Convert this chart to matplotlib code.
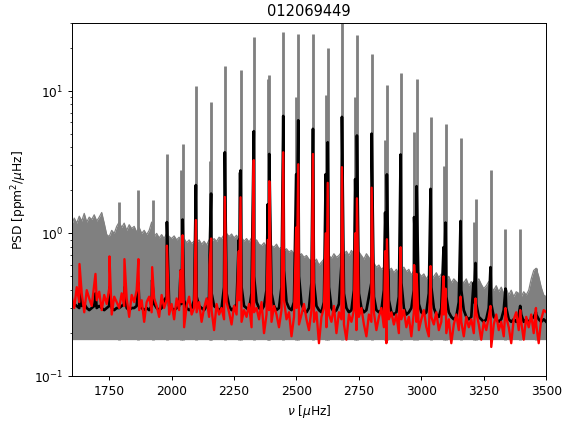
import numpy as np
import matplotlib
matplotlib.use("Agg")
import matplotlib.pyplot as plt

# ---------------- data ----------------
title = "012069449"
grid_start, grid_step = 1600, 10   # frequency grid of the background arrays (muHz)

# gray (raw PSD): lower floor and upper envelope of the dense band
gray_floor = 0.18
gray_top = [
    1.15, 1.28, 1.18, 1.32, 1.22, 1.38, 1.20, 1.30, 1.25, 1.35,
    1.22, 1.30, 1.40, 1.18, 0.98, 0.95, 1.05, 1.00, 1.12, 1.20,
    1.10, 1.18, 1.05, 1.15, 1.08, 1.12, 1.02, 1.10, 1.00, 1.05,
    0.98, 1.05, 1.20, 0.95, 1.00, 0.93, 0.98, 0.92, 1.00, 0.95,
    0.92, 0.96, 0.90, 0.94, 0.88, 0.92, 0.86, 0.90, 0.85, 0.88,
    0.86, 0.90, 0.84, 0.88, 0.83, 0.90, 0.87, 0.92, 0.88, 0.94,
    0.92, 0.98, 1.00, 0.95, 0.99, 0.93, 0.97, 0.90, 0.94, 0.88,
    0.92, 0.87, 0.93, 0.86, 0.90, 0.84, 0.82, 0.86, 0.80, 0.84,
    0.82, 0.80, 0.84, 0.78, 0.80, 0.76, 0.78, 0.74, 0.76, 0.72,
    0.74, 0.70, 0.72, 0.68, 0.70, 0.66, 0.64, 0.62, 0.66, 0.60,
    0.63, 0.66, 0.62, 0.70, 0.67, 0.72, 0.68, 0.70, 0.74, 0.72,
    0.75, 0.70, 0.76, 0.72, 0.68, 0.74, 0.70, 0.66, 0.72, 0.68,
    0.64, 0.62, 0.58, 0.60, 0.56, 0.58, 0.60, 0.55, 0.57, 0.53,
    0.56, 0.52, 0.55, 0.58, 0.54, 0.56, 0.51, 0.55, 0.50, 0.53,
    0.50, 0.52, 0.48, 0.51, 0.47, 0.50, 0.53, 0.49, 0.52, 0.48,
    0.47, 0.50, 0.45, 0.48, 0.46, 0.44, 0.47, 0.45, 0.48, 0.43,
    0.46, 0.42, 0.45, 0.48, 0.44, 0.41, 0.43, 0.46, 0.42, 0.40,
    0.43, 0.39, 0.42, 0.38, 0.41, 0.37, 0.40, 0.36, 0.39, 0.38,
    0.36, 0.39, 0.37, 0.40, 0.48, 0.55, 0.57, 0.50, 0.42, 0.37,
    0.36,
]
gray_peak_freq = [1790, 1865, 1927, 1981, 2036, 2044, 2097, 2152, 2158, 2213,
                  2269, 2276, 2329, 2385, 2391, 2447, 2499, 2507, 2566, 2617,
                  2625, 2682, 2735, 2742, 2801, 2854, 2862, 2917, 2971, 2981,
                  3037, 3089, 3097, 3157, 3209, 3217, 3277, 3337, 3396, 3459]
gray_peak_height = [1.65, 2.0, 1.71, 3.6, 2.8, 4.2, 10.7, 3.2, 8.3, 15.0,
                    2.7, 13.9, 23.6, 12.0, 12.9, 25.6, 9.1, 24.8, 24.9, 9.4,
                    19.9, 40.0, 9.1, 24.4, 18.1, 4.5, 10.9, 13.4, 5.1, 12.1,
                    6.5, 2.95, 5.8, 4.67, 1.2, 1.73, 2.8, 1.08, 1.08, 0.57]

# black (smoothed PSD): background on the grid plus peak maxima
black_bg = [
    0.31, 0.32, 0.31, 0.30, 0.31, 0.32, 0.30, 0.29, 0.30, 0.31,
    0.30, 0.31, 0.30, 0.29, 0.30, 0.31, 0.30, 0.29, 0.30, 0.30,
    0.31, 0.32, 0.30, 0.29, 0.30, 0.30, 0.31, 0.32, 0.30, 0.29,
    0.30, 0.29, 0.31, 0.32, 0.30, 0.29, 0.30, 0.34, 0.36, 0.31,
    0.30, 0.29, 0.30, 0.31, 0.32, 0.34, 0.30, 0.29, 0.30, 0.34,
    0.36, 0.31, 0.30, 0.29, 0.31, 0.36, 0.38, 0.31, 0.30, 0.29,
    0.30, 0.42, 0.38, 0.31, 0.29, 0.30, 0.32, 0.40, 0.42, 0.31,
    0.30, 0.29, 0.38, 0.50, 0.33, 0.30, 0.29, 0.31, 0.40, 0.60,
    0.38, 0.31, 0.29, 0.30, 0.42, 0.55, 0.33, 0.30, 0.29, 0.33,
    0.60, 0.50, 0.32, 0.29, 0.28, 0.30, 0.45, 0.45, 0.31, 0.29,
    0.28, 0.33, 0.70, 0.42, 0.30, 0.28, 0.29, 0.32, 0.60, 0.38,
    0.30, 0.28, 0.29, 0.40, 0.70, 0.38, 0.30, 0.28, 0.29, 0.36,
    0.45, 0.36, 0.29, 0.28, 0.29, 0.40, 0.55, 0.34, 0.28, 0.27,
    0.28, 0.36, 0.45, 0.30, 0.27, 0.28, 0.30, 0.40, 0.50, 0.32,
    0.28, 0.27, 0.28, 0.38, 0.42, 0.30, 0.27, 0.26, 0.30, 0.38,
    0.36, 0.28, 0.26, 0.25, 0.26, 0.33, 0.40, 0.29, 0.26, 0.25,
    0.26, 0.33, 0.32, 0.26, 0.25, 0.24, 0.25, 0.30, 0.32, 0.26,
    0.25, 0.24, 0.25, 0.29, 0.30, 0.25, 0.24, 0.25, 0.24, 0.27,
    0.27, 0.24, 0.25, 0.24, 0.25, 0.26, 0.27, 0.25, 0.24, 0.25,
    0.24,
]
black_peak_freq = [1631, 1695, 1751, 1811, 1867, 1922, 1981, 2036, 2044, 2097,
                   2152, 2158, 2213, 2269, 2276, 2329, 2385, 2391, 2447, 2499,
                   2507, 2566, 2617, 2625, 2682, 2735, 2742, 2801, 2855, 2862,
                   2917, 2971, 2981, 3037, 3089, 3097, 3157, 3209, 3217, 3277,
                   3337, 3396, 3459]
black_peak_height = [0.40, 0.38, 0.42, 0.42, 0.45, 0.47, 1.2, 0.55, 1.25, 2.18,
                     0.7, 1.9, 3.7, 0.9, 2.76, 5.2, 1.6, 3.6, 6.65, 2.6,
                     6.2, 5.4, 2.6, 4.35, 6.55, 2.4, 4.85, 5.0, 1.4, 2.59,
                     3.57, 1.3, 2.14, 2.05, 0.8, 1.19, 1.22, 0.45, 0.62, 0.58,
                     0.41, 0.31, 0.28]

# red (second smoothed PSD): background on the grid plus peak maxima
red_bg = [
    0.36, 0.30, 0.42, 0.33, 0.38, 0.28, 0.40, 0.35, 0.31, 0.44,
    0.34, 0.39, 0.29, 0.37, 0.32, 0.41, 0.27, 0.36, 0.33, 0.30,
    0.38, 0.31, 0.35, 0.26, 0.37, 0.33, 0.40, 0.29, 0.34, 0.24,
    0.33, 0.36, 0.28, 0.35, 0.31, 0.26, 0.37, 0.30, 0.34, 0.27,
    0.32, 0.25, 0.35, 0.29, 0.33, 0.22, 0.31, 0.36, 0.27, 0.30,
    0.28, 0.33, 0.24, 0.30, 0.35, 0.26, 0.29, 0.21, 0.32, 0.27,
    0.30, 0.25, 0.33, 0.28, 0.23, 0.31, 0.27, 0.34, 0.24, 0.29,
    0.26, 0.32, 0.22, 0.28, 0.30, 0.25, 0.33, 0.20, 0.27, 0.29,
    0.24, 0.31, 0.27, 0.22, 0.29, 0.34, 0.25, 0.28, 0.19, 0.26,
    0.30, 0.23, 0.27, 0.32, 0.25, 0.21, 0.29, 0.24, 0.28, 0.17,
    0.26, 0.30, 0.22, 0.27, 0.24, 0.31, 0.20, 0.28, 0.25, 0.23,
    0.18, 0.27, 0.24, 0.29, 0.21, 0.26, 0.30, 0.23, 0.19, 0.27,
    0.24, 0.28, 0.21, 0.26, 0.30, 0.22, 0.17, 0.25, 0.28, 0.23,
    0.27, 0.20, 0.25, 0.29, 0.22, 0.26, 0.19, 0.28, 0.24, 0.21,
    0.25, 0.29, 0.22, 0.19, 0.26, 0.23, 0.28, 0.21, 0.24, 0.27,
    0.20, 0.25, 0.17, 0.23, 0.27, 0.21, 0.24, 0.19, 0.26, 0.22,
    0.25, 0.20, 0.28, 0.23, 0.18, 0.24, 0.21, 0.26, 0.16, 0.23,
    0.27, 0.21, 0.24, 0.19, 0.26, 0.22, 0.17, 0.25, 0.28, 0.21,
    0.24, 0.18, 0.26, 0.22, 0.27, 0.20, 0.23, 0.17, 0.25, 0.29,
    0.28,
]
red_peak_freq = [1631, 1695, 1751, 1811, 1867, 1922, 1981, 2036, 2044, 2097,
                 2152, 2158, 2213, 2269, 2276, 2329, 2385, 2391, 2447, 2499,
                 2507, 2566, 2617, 2625, 2682, 2735, 2742, 2801, 2855, 2862,
                 2917, 2971, 2981, 3037, 3089, 3097, 3157, 3217, 3277, 3337,
                 3396, 3459]
red_peak_height = [0.61, 0.52, 0.69, 0.66, 0.66, 0.58, 0.82, 0.55, 0.97, 1.24,
                   0.6, 0.92, 1.8, 0.75, 1.79, 3.26, 0.9, 2.32, 3.7, 1.1,
                   3.05, 3.6, 1.0, 2.26, 2.91, 1.0, 1.76, 2.09, 0.75, 0.91,
                   0.80, 0.6, 0.52, 0.59, 0.5, 0.41, 0.36, 0.35, 0.31, 0.30,
                   0.29, 0.30]

xticks = [1750, 2000, 2250, 2500, 2750, 3000, 3250, 3500]
xlim = (1600, 3500)
ylim = (0.1, 30)


def merged(bg, pk_f, pk_h):
    f_bg = grid_start + grid_step * np.arange(len(bg))
    f = np.concatenate([f_bg, np.asarray(pk_f, float)])
    v = np.concatenate([np.asarray(bg, float), np.asarray(pk_h, float)])
    order = np.argsort(f, kind="stable")
    return f[order], v[order]


fig = plt.figure(figsize=(6.4, 4.8), dpi=88)
ax = fig.add_axes([0.1274, 0.1087, 0.9698 - 0.1274, 0.9456 - 0.1087])

# gray raw spectrum
f_gray = grid_start + grid_step * np.arange(len(gray_top))
ax.fill_between(f_gray, gray_floor, gray_top, color="gray", lw=0)
ax.plot(f_gray, gray_top, color="gray", lw=1.0)
ax.vlines(gray_peak_freq, gray_floor, gray_peak_height, color="gray", lw=2.3)

# black smoothed spectrum
fb, vb = merged(black_bg, black_peak_freq, black_peak_height)
ax.plot(fb, vb, color="k", lw=2.2)

# red spectrum
fr, vr = merged(red_bg, red_peak_freq, red_peak_height)
ax.plot(fr, vr, color="r", lw=1.9)

ax.set_yscale("log")
ax.set_xlim(*xlim)
ax.set_ylim(*ylim)
ax.set_xticks(xticks)
ax.set_title(title)
ax.set_xlabel(r"$\nu$ [$\mu$Hz]")
ax.set_ylabel(r"PSD [ppm$^2$/$\mu$Hz]")

fig.savefig("out.png", dpi=88)
